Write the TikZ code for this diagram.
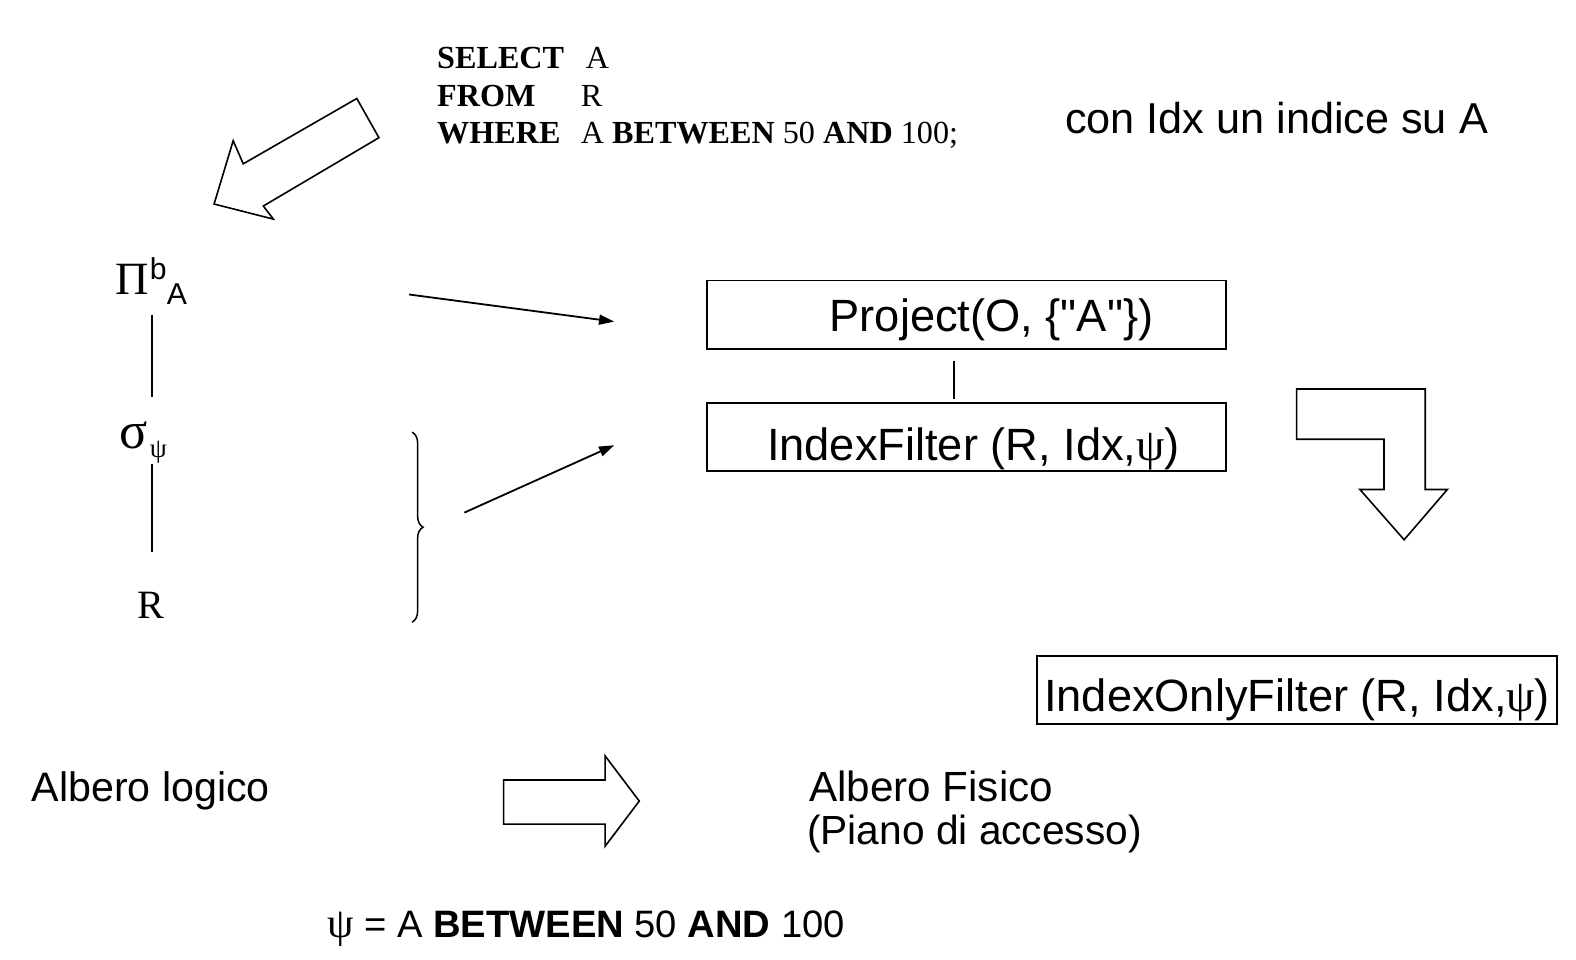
\documentclass[tikz,border=0pt]{standalone}
\usepackage{fontspec}
\setmainfont{Liberation Serif}
\newfontfamily\comic{Liberation Sans}
\newfontfamily\symb{Liberation Serif}
\usetikzlibrary{arrows.meta,decorations.pathreplacing}
\begin{document}
\begin{tikzpicture}[x=1pt,y=-1pt,
  txt/.style={inner sep=0pt, outer sep=0pt},
  ctext/.style={txt, font=\comic\fontsize{43}{45}\selectfont},
  sql/.style={txt, font=\fontsize{32}{36}\selectfont, anchor=base west},
  opbox/.style={draw, line width=1.8pt, inner sep=0pt, minimum width=517pt, minimum height=68pt, text depth=0pt, font=\comic\fontsize{45}{50}\selectfont},
  conn/.style={line width=1.8pt, -{Triangle[length=15pt,width=10pt]}},
  treeline/.style={line width=1.6pt},
  hollow/.style={draw, line width=1.6pt, fill=white, line join=miter}]
\useasboundingbox (0,0) rectangle (1568,955);

% SQL query
\node[sql] (sel) at (435,68) {\makebox[148pt][l]{\bfseries SELECT}A};
\node[sql] (from) at (435,106) {\makebox[143pt][l]{\bfseries FROM}R};
\node[sql] (where) at (435,143) {\makebox[143pt][l]{\bfseries WHERE}A \textbf{BETWEEN} 50 \textbf{AND} 100;};

\node[ctext, anchor=base] (idx) at (1270,133) {con Idx un indice su A};

% hollow arrow top-left
\draw[hollow] (355,98) -- (377,137) -- (262,205) -- (272,218) -- (213,203) -- (232,140) -- (242,163) -- cycle;

% logical tree
\node[txt, anchor=base west] (pi) at (115,293) {\fontsize{46}{50}\selectfont Π\kern1pt\raisebox{15pt}{\comic\fontsize{30}{32}\selectfont b}\raisebox{-10pt}{\comic\fontsize{30}{32}\selectfont A}};
\node[txt, anchor=base west] (sigma) at (119,446) {\fontsize{52}{54}\selectfont σ\kern2pt\raisebox{-9pt}{\fontsize{27}{29}\selectfont ψ}};
\node[txt, anchor=base, font=\fontsize{40}{44}\selectfont] (r) at (150,615) {R};
\coordinate (t1a) at (151,313);
\coordinate (t1b) at (151,395);
\coordinate (t2a) at (151,462);
\coordinate (t2b) at (151,549);
\draw[treeline] (t1a) -- (t1b);
\draw[treeline] (t2a) -- (t2b);

% brace
\coordinate (bra) at (410,430);
\coordinate (brb) at (410,619);
\draw[line width=1.5pt, decorate, decoration={brace, amplitude=11pt}] (bra) -- (brb);

% mapping arrows
\coordinate (a1s) at (407,293);
\coordinate (a1e) at (611,320);
\coordinate (a2s) at (462,510);
\coordinate (a2e) at (611,443);
\draw[conn] (a1s) -- (a1e);
\draw[conn] (a2s) -- (a2e);

% physical plan
\node[opbox, text height=34pt] (b1) at (961.5,313) {\hspace*{50pt}Project(O, \{"A"\})};
\node[opbox, text height=46pt] (b2) at (961.5,435) {\hspace*{14pt}IndexFilter (R, Idx,{\symb ψ})};
\draw[treeline] ([shift={(-12.5,11)}]b1.south) -- ([shift={(-12.5,-3)}]b2.north);

% L-shaped hollow arrow
\draw[hollow] (1290,387) -- (1418,387) -- (1418,487) -- (1440,487) -- (1397,537) -- (1353,487) -- (1377,487) -- (1377,437) -- (1290,437) -- cycle;

\node[opbox, minimum height=67pt, text height=43pt] (b3) at (1290.5,686.5) {IndexOnlyFilter (R, Idx,{\symb ψ})};

% bottom labels
\node[ctext, anchor=base, font=\comic\fontsize{41}{45}\selectfont] (al) at (150,797) {Albero logico};
\draw[hollow] (501,776) -- (602,776) -- (602,752) -- (636,797) -- (602,842) -- (602,820) -- (501,820) -- cycle;
\node[ctext, anchor=base west, font=\comic\fontsize{42}{45}\selectfont] (af) at (805,797) {Albero Fisico};
\node[ctext, anchor=base west, font=\comic\fontsize{40.5}{45}\selectfont] (pa) at (803,840) {(Piano di accesso)};

\node[txt, anchor=base, font=\comic\fontsize{38}{46}\selectfont] (psi) at (583,933) {{\symb\fontsize{42}{46}\selectfont ψ} = A \textbf{BETWEEN} 50 \textbf{AND} 100};
\end{tikzpicture}
\end{document}
